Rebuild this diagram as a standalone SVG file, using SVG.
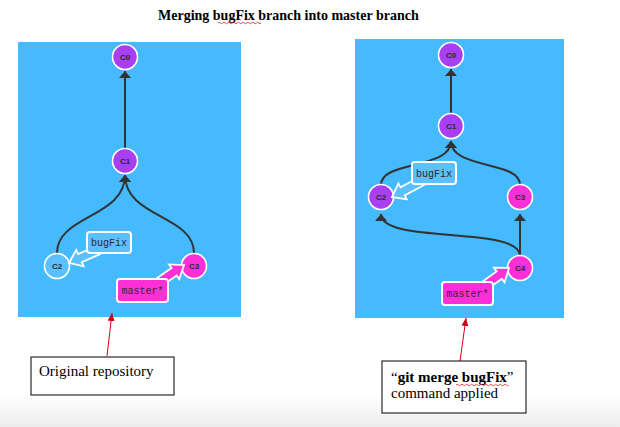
<svg xmlns="http://www.w3.org/2000/svg" width="620" height="427" viewBox="0 0 620 427">
<defs>
<linearGradient id="bgGrad" x1="0" y1="0" x2="0" y2="1">
<stop offset="0" stop-color="#ffffff"/>
<stop offset="1" stop-color="#ececec"/>
</linearGradient>
<marker id="head" markerUnits="userSpaceOnUse" markerWidth="8" markerHeight="13" refX="7" refY="6.5" orient="auto">
<path d="M0,0.5 L7,6.5 L0,12.5 z" fill="#333"/>
</marker>
<marker id="redHead" markerUnits="userSpaceOnUse" markerWidth="9" markerHeight="8" refX="8" refY="4" orient="auto">
<path d="M0,0.5 L8,4 L0,7.5 z" fill="#d0021b"/>
</marker>
</defs>
<style>
.panel{fill:#45baff}
.conn{fill:none;stroke:#333;stroke-width:2;marker-end:url(#head)}
.node{stroke:#fff;stroke-width:1.6}
.purple{fill:#a93ff2}
.pink{fill:#ff2fd8}
.lblue{fill:#5cc0ff}
.ntext{font-family:"Liberation Sans",Arial,sans-serif;font-size:8px;font-weight:bold;fill:#2a2a2a;text-anchor:middle}
.ltext{font-family:"Liberation Mono","Courier New",monospace;font-size:10px;fill:#2a2a2a;text-anchor:middle}
.lbox{stroke:#fff;stroke-width:2}
.barrow{stroke:#fff;stroke-width:1.8;stroke-linejoin:miter}
.note{fill:#fff;stroke:#000;stroke-width:1}
.ntxt{font-family:"Liberation Serif","Times New Roman",serif;font-size:15px;fill:#000}
.red{fill:none;stroke:#d0021b;stroke-width:1;marker-end:url(#redHead)}
.squig{fill:none;stroke:#e02020;stroke-width:0.8}
</style>
<rect x="0" y="0" width="620" height="427" fill="#fff"/>
<rect x="0" y="395" width="620" height="32" fill="url(#bgGrad)"/>

<text x="158" y="20" font-family="'Liberation Serif','Times New Roman',serif" font-size="14" font-weight="bold" fill="#000">Merging bugFix branch into master branch</text>
<path class="squig" d="M218,23 q1.2,-1.5 2.4,0 t2.4,0 t2.4,0 t2.4,0 t2.4,0 t2.4,0 t2.4,0 t2.4,0 t2.4,0 t2.4,0 t2.4,0 t2.4,0 t2.4,0 t2.4,0 t2.4,0 t2.4,0 t2.4,0 t2.4,0"/>

<rect class="panel" x="18" y="42" width="223" height="275"/>
<rect class="panel" x="355" y="39" width="209" height="279"/>

<g id="connectors">
<path class="conn" d="M125,148 L125,71"/>
<path class="conn" d="M57,253 C57,215 125,218 125,175"/>
<path class="conn" d="M194,253 C194,215 125,218 125,175"/>
<path class="conn" d="M451,114 L451,69"/>
<path class="conn" d="M381,185 C381,160 451,170 451,141"/>
<path class="conn" d="M520,185 C520,160 451,170 451,141"/>
<path class="conn" d="M520,256 L520,214"/>
<path class="conn" d="M520,256 C520,225 381,245 381,214"/>
<path class="red" d="M107,356 L112,313"/>
<path class="red" d="M460,361 L466,318"/>
</g>

<g id="L-C0"><circle class="node purple" cx="125" cy="57" r="12.5"/><text class="ntext" x="125" y="60">C0</text></g>
<g id="L-C1"><circle class="node purple" cx="125" cy="161" r="12.5"/><text class="ntext" x="125" y="164">C1</text></g>
<g id="L-C2"><circle class="node lblue" cx="57" cy="266" r="12.5"/><text class="ntext" x="57" y="269">C2</text></g>
<g id="L-C3"><circle class="node pink" cx="194" cy="266" r="12.5"/><text class="ntext" x="194" y="269">C3</text></g>

<g id="L-bugFix">
<polygon class="barrow lblue" transform="translate(69,263) rotate(156)" points="-32,-4.5 -12,-4.5 -12,-9 0,0 -12,9 -12,4.5 -32,4.5"/>
<rect class="lbox lblue" x="87" y="232" width="44" height="21" rx="3"/>
<text class="ltext" x="109" y="246">bugFix</text>
</g>
<g id="L-master">
<polygon class="barrow pink" transform="translate(184,265) rotate(-34.6)" points="-36,-4.5 -12,-4.5 -12,-9 0,0 -12,9 -12,4.5 -36,4.5"/>
<rect class="lbox pink" x="117" y="279" width="51" height="23" rx="3"/>
<text class="ltext" x="142.5" y="294">master*</text>
</g>

<g id="R-C0"><circle class="node purple" cx="451" cy="55" r="12.5"/><text class="ntext" x="451" y="58">C0</text></g>
<g id="R-C1"><circle class="node purple" cx="451" cy="126" r="12.5"/><text class="ntext" x="451" y="129">C1</text></g>
<g id="R-C2"><circle class="node purple" cx="381" cy="197" r="12.5"/><text class="ntext" x="381" y="200">C2</text></g>
<g id="R-C3"><circle class="node pink" cx="520" cy="197" r="12.5"/><text class="ntext" x="520" y="200">C3</text></g>
<g id="R-C4"><circle class="node pink" cx="520" cy="268" r="12.5"/><text class="ntext" x="520" y="271">C4</text></g>

<g id="R-bugFix">
<polygon class="barrow lblue" transform="translate(392,197) rotate(152)" points="-34,-4.5 -12,-4.5 -12,-9 0,0 -12,9 -12,4.5 -34,4.5"/>
<rect class="lbox lblue" x="412" y="162" width="44" height="22" rx="3"/>
<text class="ltext" x="434" y="176.5">bugFix</text>
</g>
<g id="R-master">
<polygon class="barrow pink" transform="translate(509,268) rotate(-35.8)" points="-34,-4.5 -12,-4.5 -12,-9 0,0 -12,9 -12,4.5 -34,4.5"/>
<rect class="lbox pink" x="442" y="282" width="51" height="23" rx="3"/>
<text class="ltext" x="467.5" y="297">master*</text>
</g>

<g id="note-left">
<rect class="note" x="31" y="357" width="143" height="38"/>
<text class="ntxt" x="39" y="376">Original repository</text>
</g>
<g id="note-right">
<rect class="note" x="382" y="361" width="144" height="52"/>
<text class="ntxt" x="391" y="382">“<tspan font-weight="bold">git merge bugFix</tspan>”</text>
<text class="ntxt" x="391" y="398">command applied</text>
<path class="squig" d="M456,385 q1.2,-1.5 2.4,0 t2.4,0 t2.4,0 t2.4,0 t2.4,0 t2.4,0 t2.4,0 t2.4,0 t2.4,0 t2.4,0 t2.4,0 t2.4,0 t2.4,0 t2.4,0 t2.4,0 t2.4,0 t2.4,0 t2.4,0 t2.4,0 t2.4,0 t2.4,0 t2.4,0"/>
</g>
</svg>
